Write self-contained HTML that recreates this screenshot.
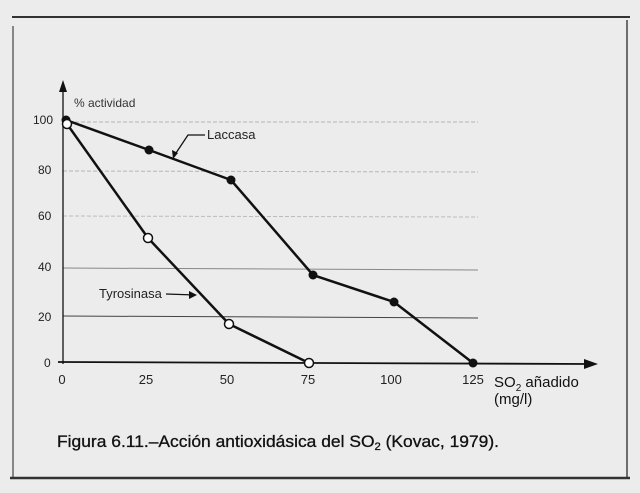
<!DOCTYPE html>
<html><head><style>
html,body{margin:0;padding:0;background:#ececec;}
svg{display:block}
</style></head><body>
<svg width="640" height="493" xmlns="http://www.w3.org/2000/svg" font-family="Liberation Sans, sans-serif">
<rect width="640" height="493" fill="#ececec"/>
<line x1="12" y1="17" x2="630" y2="17" stroke="#333" stroke-width="2"/>
<line x1="13" y1="26" x2="13" y2="478" stroke="#444" stroke-width="1.2"/>
<line x1="627" y1="20" x2="627" y2="478" stroke="#444" stroke-width="1.5"/>
<line x1="10" y1="478" x2="630" y2="478" stroke="#333" stroke-width="2.5"/>
<g stroke-width="1">
<line x1="63" y1="122" x2="478" y2="122" stroke="#b5b5b5" stroke-dasharray="4 2"/>
<line x1="63" y1="171" x2="478" y2="172" stroke="#b5b5b5" stroke-dasharray="4 2"/>
<line x1="63" y1="216" x2="478" y2="217" stroke="#bbb" stroke-dasharray="4 2"/>
<line x1="63" y1="268" x2="478" y2="270" stroke="#888"/>
<line x1="63" y1="316" x2="478" y2="318" stroke="#444"/>
</g>
<line x1="63" y1="88" x2="63" y2="364" stroke="#111" stroke-width="1.3"/>
<polygon points="63,80 59,92 67,92" fill="#111"/>
<line x1="58" y1="362" x2="588" y2="364" stroke="#111" stroke-width="1.8"/>
<polygon points="598,364 584,359 584,369" fill="#111"/>
<g font-size="12" fill="#222">
<text x="33" y="124">100</text><text x="38" y="174">80</text><text x="38" y="220">60</text>
<text x="38" y="271">40</text><text x="38" y="321">20</text><text x="44" y="367">0</text>
</g>
<g font-size="13" fill="#222" text-anchor="middle">
<text x="62" y="384">0</text><text x="146" y="384">25</text><text x="227" y="384">50</text>
<text x="308" y="384">75</text><text x="391" y="384">100</text><text x="473" y="384">125</text>
</g>
<text x="494" y="387" font-size="15" fill="#111">SO<tspan font-size="10" dy="4">2</tspan><tspan dy="-4"> añadido</tspan></text>
<text x="494" y="404" font-size="15" fill="#111">(mg/l)</text>
<text x="74" y="107" font-size="12" fill="#333">% actividad</text>
<polyline points="66,120 149,150 231,180 313,275 394,302 473,363" fill="none" stroke="#111" stroke-width="2.5"/>
<polyline points="67,124 148,238 229,324 309,363" fill="none" stroke="#111" stroke-width="2.5"/>
<g fill="#111">
<circle cx="66" cy="120" r="4.5"/><circle cx="149" cy="150" r="4.5"/><circle cx="231" cy="180" r="4.5"/>
<circle cx="313" cy="275" r="4.5"/><circle cx="394" cy="302" r="4.5"/><circle cx="473" cy="363" r="4.5"/>
</g>
<g fill="#fff" stroke="#111" stroke-width="1.5">
<circle cx="67" cy="124" r="4.5"/><circle cx="148" cy="238" r="4.5"/><circle cx="229" cy="324" r="4.5"/><circle cx="309" cy="363" r="4.5"/>
</g>
<text x="207" y="139" font-size="13" fill="#222">Laccasa</text>
<polyline points="205,135 188,135 174,156" fill="none" stroke="#111" stroke-width="1.3"/>
<polygon points="173,159 172,150 178,153" fill="#111"/>
<text x="99" y="298" font-size="13" fill="#222">Tyrosinasa</text>
<line x1="166" y1="294" x2="195" y2="295" stroke="#111" stroke-width="1.3"/>
<polygon points="197,295 189,291 189,299" fill="#111"/>
<text x="57" y="447" font-size="17" fill="#111" stroke="#111" stroke-width="0.3" textLength="442" lengthAdjust="spacingAndGlyphs">Figura 6.11.–Acción antioxidásica del SO<tspan font-size="11" dy="3">2</tspan><tspan dy="-3"> (Kovac, 1979).</tspan></text>
</svg>
</body></html>
